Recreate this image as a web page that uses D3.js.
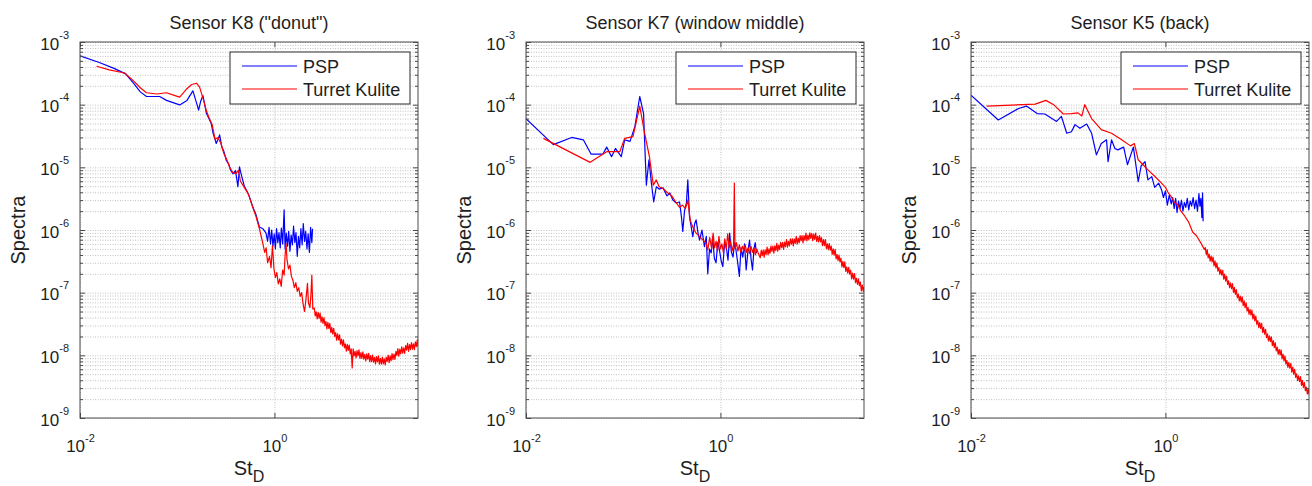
<!DOCTYPE html>
<html>
<head>
<meta charset="utf-8">
<script src="https://cdn.jsdelivr.net/npm/d3@7"></script>
<style>
  body { margin: 0; background: #fff; }
  svg { display: block; font-family: "Liberation Sans", Arial, Helvetica, sans-serif; }
</style>
</head>
<body>
<svg id="chart" width="1312" height="486"></svg>
<script>
// Titles, legend names and axis ticks
const panelTitles = ['Sensor K8 ("donut")', 'Sensor K7 (window middle)', 'Sensor K5 (back)'];
const seriesNames = ['PSP', 'Turret Kulite'];
const seriesColors = ['#0000ff', '#ff0000'];
const xTickValues = [0.01, 1];
const yTickValues = [1e-9, 1e-8, 1e-7, 1e-6, 1e-5, 1e-4, 1e-3];
const xDomain = [0.01, 30];
const yDomain = [1e-9, 1e-3];

// Spectra vs. St_D, one array of [St_D, spectrum] pairs per sensor and measurement
const k8Psp = [
  [0.010,6.0e-4],[0.0158,4.7e-4],[0.0224,3.8e-4],[0.0295,3.1e-4],[0.0355,2.2e-4],[0.0417,1.6e-4],
  [0.0483,1.35e-4],[0.066,1.35e-4],[0.0776,1.17e-4],[0.106,9.9e-5],[0.126,1.17e-4],[0.145,1.66e-4],
  [0.158,1.07e-4],[0.166,8.2e-5],[0.174,1.12e-4],[0.184,1.4e-4],[0.20,7.2e-5],[0.212,6.0e-5],
  [0.224,5.0e-5],[0.234,3.5e-5],[0.245,2.8e-5],[0.252,2.4e-5],[0.263,2.8e-5],[0.273,3.3e-5],
  [0.288,2.1e-5],[0.302,1.8e-5],[0.319,1.3e-5],[0.339,1.12e-5],[0.355,8.9e-6],[0.374,7.9e-6],
  [0.398,8.9e-6],[0.421,4.9e-6],[0.437,1.02e-5],[0.457,7.6e-6],[0.49,5.0e-6],[0.513,4.4e-6],
  [0.55,3.5e-6],[0.60,2.3e-6],[0.645,1.78e-6],[0.70,1.12e-6],[0.76,1.05e-6],[0.82,8.9e-7],
  [0.851,6.6e-7],[0.881,1.10e-6],[0.912,6.0e-7],[0.938,1.0e-6],[0.966,5.5e-7],[0.995,8.7e-7],
  [1.023,5.0e-7],[1.052,1.05e-6],[1.084,6.3e-7],[1.114,9.1e-7],[1.148,5.2e-7],[1.180,1.07e-6],
  [1.216,6.0e-7],[1.259,2.1e-6],[1.288,5.0e-7],[1.324,8.9e-7],[1.365,5.5e-7],[1.403,9.5e-7],
  [1.445,4.6e-7],[1.486,8.3e-7],[1.531,5.8e-7],[1.574,1.15e-6],[1.622,6.3e-7],[1.667,9.1e-7],
  [1.718,3.8e-7],[1.766,7.9e-7],[1.820,5.2e-7],[1.871,1.05e-6],[1.928,5.8e-7],[1.982,1.26e-6],
  [2.042,6.6e-7],[2.099,9.5e-7],[2.163,5.0e-7],[2.223,8.7e-7],[2.291,4.4e-7],[2.355,1.10e-6],
  [2.427,6.3e-7],[2.466,1.05e-6]
];
const k8Kulite = [
  [0.0148,4.1e-4],[0.020,3.6e-4],[0.0288,3.2e-4],[0.0355,2.4e-4],[0.0417,1.86e-4],[0.0483,1.55e-4],
  [0.0617,1.48e-4],[0.0776,1.55e-4],[0.0933,1.41e-4],[0.106,1.32e-4],[0.124,1.76e-4],[0.141,2.1e-4],
  [0.158,2.2e-4],[0.170,1.9e-4],[0.187,1.17e-4],[0.20,7.9e-5],[0.214,6.0e-5],[0.229,4.8e-5],
  [0.245,2.8e-5],[0.263,3.0e-5],[0.282,2.4e-5],[0.302,1.66e-5],[0.324,1.32e-5],[0.347,1.0e-5],
  [0.372,8.3e-6],[0.398,7.9e-6],[0.427,8.9e-6],[0.447,6.0e-6],[0.49,4.8e-6],[0.537,3.8e-6],
  [0.589,2.5e-6],[0.645,1.66e-6],[0.70,1.05e-6],
  [0.759,6.2e-7],[0.794,4.4e-7],[0.822,5.2e-7],[0.851,3.0e-7],[0.891,3.8e-7],[0.923,2.5e-7],
  [0.955,5.6e-7],[0.989,2.4e-7],[1.023,1.74e-7],[1.059,2.1e-7],[1.096,1.38e-7],[1.135,1.66e-7],
  [1.175,1.26e-7],[1.216,2.3e-7],[1.259,1.9e-7],[1.288,4.0e-7],[1.318,6.0e-7],[1.349,3.3e-7],
  [1.396,2.4e-7],[1.445,2.75e-7],[1.496,1.82e-7],[1.549,1.58e-7],[1.603,1.2e-7],[1.660,1.45e-7],
  [1.718,1.05e-7],[1.778,1.2e-7],[1.841,8.7e-8],[1.905,1.0e-7],[1.972,6.6e-8],[2.042,5.0e-8],
  [2.113,7.9e-8],[2.188,1.41e-7],[2.239,6.9e-8],[2.317,5.8e-8],[2.371,8.9e-8],[2.427,1.9e-7],
  [2.483,5.5e-8],
  [2.570,5.69e-8],[2.630,4.27e-8],[2.692,4.95e-8],[2.754,3.80e-8],[2.818,4.84e-8],[2.884,3.89e-8],
  [2.951,4.73e-8],[3.020,3.39e-8],[3.090,4.12e-8],[3.162,3.24e-8],[3.236,4.01e-8],[3.311,2.99e-8],
  [3.388,3.46e-8],[3.467,2.64e-8],[3.548,3.35e-8],[3.631,2.68e-8],[3.715,3.24e-8],[3.802,2.31e-8],
  [3.890,2.80e-8],[3.981,2.19e-8],[4.074,2.70e-8],[4.169,2.00e-8],[4.266,2.31e-8],[4.365,1.75e-8],
  [4.467,2.21e-8],[4.571,1.76e-8],[4.677,2.12e-8],[4.786,1.51e-8],[4.898,1.82e-8],[5.012,1.41e-8],
  [5.129,1.76e-8],[5.248,1.32e-8],[5.370,1.53e-8],[5.495,1.17e-8],[5.623,1.50e-8],[5.754,1.20e-8],
  [5.888,1.46e-8],[6.026,1.05e-8],[6.166,1.27e-8],[6.310,6.31e-9],[6.457,1.27e-8],[6.607,9.77e-9],
  [6.761,1.16e-8],[6.918,9.12e-9],[7.079,1.19e-8],[7.244,9.77e-9],[7.413,1.22e-8],[7.586,8.91e-9],
  [7.762,1.11e-8],[7.943,8.91e-9],[8.128,1.14e-8],[8.318,8.71e-9],[8.511,1.04e-8],[8.710,8.13e-9],
  [8.913,1.06e-8],[9.120,8.71e-9],[9.333,1.08e-8],[9.550,7.94e-9],[9.772,9.89e-9],[10.00,7.94e-9],
  [10.23,1.01e-8],[10.47,7.80e-9],[10.72,9.29e-9],[10.96,7.31e-9],[11.22,9.55e-9],[11.48,7.87e-9],
  [11.75,9.82e-9],[12.02,7.21e-9],[12.30,8.99e-9],[12.59,7.24e-9],[12.88,9.38e-9],[13.18,7.31e-9],
  [13.49,8.83e-9],[13.80,7.05e-9],[14.13,9.33e-9],[14.45,7.91e-9],[14.79,1.01e-8],[15.14,7.66e-9],
  [15.49,9.82e-9],[15.85,8.13e-9],[16.22,1.07e-8],[16.60,8.55e-9],[16.98,1.05e-8],[17.38,8.59e-9],
  [17.78,1.16e-8],[18.20,9.91e-9],[18.62,1.28e-8],[19.05,9.73e-9],[19.50,1.26e-8],[19.95,1.05e-8],
  [20.42,1.37e-8],[20.89,1.08e-8],[21.38,1.32e-8],[21.88,1.07e-8],[22.39,1.43e-8],[22.91,1.21e-8],
  [23.44,1.55e-8],[23.99,1.16e-8],[24.55,1.49e-8],[25.12,1.23e-8],[25.70,1.60e-8],[26.30,1.26e-8],
  [26.92,1.53e-8],[27.54,1.23e-8],[28.18,1.64e-8],[28.84,1.38e-8],[29.51,1.76e-8],[30.0,1.38e-8]
];
const k7Psp = [
  [0.0100,6.0e-5],[0.0191,2.3e-5],[0.0295,3.0e-5],[0.0389,2.75e-5],[0.0468,1.62e-5],[0.0617,1.62e-5],
  [0.0676,2.1e-5],[0.0759,1.48e-5],[0.0832,2.0e-5],[0.0955,1.48e-5],[0.1035,2.75e-5],[0.1175,2.6e-5],
  [0.132,4.5e-5],[0.148,1.35e-4],[0.162,7.2e-5],[0.173,5.2e-6],[0.184,1.32e-5],[0.195,5.6e-6],
  [0.206,2.8e-6],[0.219,4.9e-6],[0.234,4.5e-6],[0.257,4.7e-6],[0.282,3.5e-6],[0.302,3.9e-6],
  [0.324,3.0e-6],[0.351,2.7e-6],[0.380,2.8e-6],[0.398,1.58e-6],[0.410,9.5e-7],[0.427,2.0e-6],
  [0.447,2.7e-6],[0.462,6.3e-6],[0.481,1.62e-6],[0.501,1.12e-6],[0.520,7.8e-7],[0.543,1.26e-6],
  [0.562,1.45e-6],[0.589,8.9e-7],[0.610,6.9e-7],[0.646,1.0e-6],[0.685,5.4e-7],[0.716,7.9e-7],
  [0.741,2.0e-7],[0.773,5.0e-7],[0.804,4.3e-7],[0.832,7.8e-7],[0.867,3.5e-7],[0.902,3.0e-7],
  [0.938,6.3e-7],[0.977,4.8e-7],[1.019,3.2e-7],[1.059,2.6e-7],[1.102,6.0e-7],[1.148,5.4e-7],
  [1.197,3.3e-7],[1.245,8.9e-7],[1.294,4.5e-7],[1.349,3.7e-7],[1.396,6.3e-7],[1.445,4.8e-7],
  [1.507,3.0e-7],[1.567,1.82e-7],[1.629,5.2e-7],[1.698,3.7e-7],[1.770,6.0e-7],[1.841,2.3e-7],
  [1.914,4.4e-7],[1.995,6.9e-7],[2.065,3.5e-7],[2.138,2.3e-7],[2.213,5.0e-7],[2.280,6.3e-7],
  [2.344,4.3e-7]
];
const k7Kulite = [
  [0.0151,2.9e-5],[0.0457,1.2e-5],[0.0676,1.78e-5],[0.0923,1.78e-5],[0.1035,2.9e-5],[0.126,3.1e-5],
  [0.148,9.5e-5],[0.166,3.5e-5],[0.186,1.48e-5],[0.204,5.2e-6],[0.219,6.3e-6],[0.234,4.9e-6],
  [0.257,4.6e-6],[0.282,4.0e-6],[0.316,3.5e-6],[0.347,2.8e-6],[0.380,2.3e-6],[0.407,2.5e-6],
  [0.437,2.2e-6],[0.462,3.0e-6],[0.490,1.41e-6],[0.520,1.12e-6],[0.562,8.9e-7],[0.661,6.9e-7],
  [0.708,6.3e-7],[0.741,4.8e-7],[0.776,7.6e-7],[0.813,5.0e-7],[0.841,8.9e-7],[0.871,5.2e-7],
  [0.902,6.6e-7],[0.933,4.6e-7],[0.966,7.9e-7],[1.000,5.0e-7],[1.035,6.0e-7],[1.072,4.4e-7],
  [1.109,7.2e-7],[1.148,5.0e-7],[1.189,8.7e-7],[1.230,5.2e-7],[1.274,6.6e-7],[1.318,4.6e-7],
  [1.365,5.8e-7],[1.390,5.6e-6],[1.413,5.0e-7],[1.462,6.3e-7],[1.514,4.6e-7],[1.567,5.8e-7],
  [1.622,4.4e-7],[1.679,5.5e-7],[1.738,4.6e-7],[1.799,5.8e-7],[1.862,4.4e-7],[1.928,5.2e-7],
  [1.995,4.2e-7],[2.065,5.5e-7],[2.138,4.4e-7],[2.213,5.2e-7],[2.291,4.0e-7],[2.371,5.0e-7],
  [2.455,4.2e-7],
  [2.570,3.61e-7],[2.630,4.72e-7],[2.692,3.90e-7],[2.754,4.76e-7],[2.818,3.67e-7],[2.884,4.81e-7],
  [2.951,4.06e-7],[3.020,5.32e-7],[3.090,4.01e-7],[3.162,5.01e-7],[3.236,4.23e-7],[3.311,5.52e-7],
  [3.388,4.55e-7],[3.467,5.55e-7],[3.548,4.27e-7],[3.631,5.57e-7],[3.715,4.70e-7],[3.802,6.14e-7],
  [3.890,4.61e-7],[3.981,5.75e-7],[4.074,4.85e-7],[4.169,6.34e-7],[4.266,5.22e-7],[4.365,6.37e-7],
  [4.467,4.90e-7],[4.571,6.40e-7],[4.677,5.40e-7],[4.786,7.05e-7],[4.898,5.30e-7],[5.012,6.61e-7],
  [5.129,5.56e-7],[5.248,7.24e-7],[5.370,5.96e-7],[5.495,7.24e-7],[5.623,5.56e-7],[5.754,7.24e-7],
  [5.888,6.10e-7],[6.026,7.94e-7],[6.166,5.96e-7],[6.310,7.41e-7],[6.457,6.24e-7],[6.607,8.13e-7],
  [6.761,6.68e-7],[6.918,8.13e-7],[7.079,6.24e-7],[7.244,8.13e-7],[7.413,6.84e-7],[7.586,8.91e-7],
  [7.762,6.68e-7],[7.943,8.32e-7],[8.128,6.95e-7],[8.318,8.99e-7],[8.511,7.35e-7],[8.710,8.87e-7],
  [8.913,6.76e-7],[9.120,8.59e-7],[9.333,7.05e-7],[9.550,8.95e-7],[9.772,6.55e-7],[10.00,7.94e-7],
  [10.23,6.46e-7],[10.47,8.13e-7],[10.72,6.46e-7],[10.96,7.59e-7],[11.22,5.62e-7],[11.48,7.01e-7],
  [11.75,5.65e-7],[12.02,7.05e-7],[12.30,5.06e-7],[12.59,6.03e-7],[12.88,4.85e-7],[13.18,6.05e-7],
  [13.49,4.76e-7],[13.80,5.55e-7],[14.13,4.07e-7],[14.45,5.01e-7],[14.79,3.98e-7],[15.14,4.90e-7],
  [15.49,3.47e-7],[15.85,4.07e-7],[16.22,3.24e-7],[16.60,3.98e-7],[16.98,3.09e-7],[17.38,3.55e-7],
  [17.78,2.57e-7],[18.20,3.16e-7],[18.62,2.51e-7],[19.05,3.09e-7],[19.50,2.19e-7],[19.95,2.57e-7],
  [20.42,2.05e-7],[20.89,2.54e-7],[21.38,1.98e-7],[21.88,2.28e-7],[22.39,1.66e-7],[22.91,2.05e-7],
  [23.44,1.64e-7],[23.99,2.02e-7],[24.55,1.44e-7],[25.12,1.70e-7],[25.70,1.35e-7],[26.30,1.66e-7],
  [26.92,1.29e-7],[27.54,1.48e-7],[28.18,1.07e-7],[28.84,1.32e-7],[29.51,1.05e-7],[30.0,1.23e-7]
];
const k5Psp = [
  [0.0100,1.41e-4],[0.0191,5.7e-5],[0.0309,8.7e-5],[0.0372,9.5e-5],[0.0479,7.2e-5],[0.0575,7.1e-5],
  [0.0759,5.4e-5],[0.0851,6.5e-5],[0.0966,3.5e-5],[0.108,3.7e-5],[0.1175,4.8e-5],[0.132,4.2e-5],
  [0.155,4.9e-5],[0.174,3.5e-5],[0.195,1.58e-5],[0.219,2.4e-5],[0.248,2.75e-5],[0.257,1.23e-5],
  [0.279,2.75e-5],[0.302,2.0e-5],[0.324,1.9e-5],[0.372,2.1e-5],[0.407,1.1e-5],[0.468,2.1e-5],
  [0.501,1.0e-5],[0.525,5.9e-6],[0.562,1.05e-5],[0.617,1.23e-5],[0.661,6.3e-6],[0.724,7.1e-6],
  [0.776,4.8e-6],[0.851,5.6e-6],[0.912,4.4e-6],[0.955,3.3e-6],[1.000,4.2e-6],[1.047,2.5e-6],
  [1.096,3.6e-6],[1.148,2.6e-6],[1.189,3.3e-6],[1.230,2.2e-6],[1.274,3.2e-6],[1.318,1.9e-6],
  [1.365,2.9e-6],[1.413,2.2e-6],[1.462,3.0e-6],[1.514,2.0e-6],[1.567,2.75e-6],[1.622,2.3e-6],
  [1.679,3.2e-6],[1.738,2.1e-6],[1.799,2.9e-6],[1.862,2.4e-6],[1.928,3.3e-6],[1.995,2.2e-6],
  [2.065,3.0e-6],[2.138,2.0e-6],[2.213,3.8e-6],[2.265,2.4e-6],[2.317,3.2e-6],[2.371,1.58e-6],
  [2.410,3.9e-6],[2.443,1.38e-6]
];
const k5Kulite = [
  [0.0145,9.5e-5],[0.0457,1.02e-4],[0.0589,1.17e-4],[0.0708,1.0e-4],[0.0891,7.1e-5],[0.108,7.2e-5],
  [0.126,7.4e-5],[0.138,6.6e-5],[0.148,1.0e-4],[0.174,6.0e-5],[0.219,4.0e-5],[0.279,3.5e-5],
  [0.355,2.75e-5],[0.437,2.2e-5],[0.479,2.4e-5],[0.525,1.32e-5],[0.589,1.1e-5],[0.661,9.1e-6],
  [0.776,7.2e-6],[0.912,5.6e-6],[1.000,4.8e-6],[1.072,3.9e-6],[1.148,3.4e-6],[1.230,2.8e-6],
  [1.349,2.5e-6],[1.445,2.0e-6],[1.585,1.66e-6],[1.740,1.32e-6],[1.905,9.3e-7],[2.090,8.1e-7],
  [2.344,6.0e-7],[2.512,4.9e-7],
  [2.570,5.24e-7],[2.630,4.06e-7],[2.692,4.85e-7],[2.754,3.59e-7],[2.818,4.11e-7],[2.884,3.18e-7],
  [2.951,3.82e-7],[3.020,3.09e-7],[3.090,3.71e-7],[3.162,2.68e-7],[3.236,3.21e-7],[3.311,2.49e-7],
  [3.388,2.98e-7],[3.467,2.20e-7],[3.548,2.52e-7],[3.631,1.95e-7],[3.715,2.34e-7],[3.802,1.90e-7],
  [3.890,2.28e-7],[3.981,1.64e-7],[4.074,1.97e-7],[4.169,1.53e-7],[4.266,1.83e-7],[4.365,1.35e-7],
  [4.467,1.55e-7],[4.571,1.20e-7],[4.677,1.44e-7],[4.786,1.16e-7],[4.898,1.40e-7],[5.012,1.01e-7],
  [5.129,1.21e-7],[5.248,9.38e-8],[5.370,1.12e-7],[5.495,8.30e-8],[5.623,9.51e-8],[5.754,7.36e-8],
  [5.888,8.83e-8],[6.026,7.14e-8],[6.166,8.57e-8],[6.310,6.19e-8],[6.457,7.43e-8],[6.607,5.75e-8],
  [6.761,6.89e-8],[6.918,5.09e-8],[7.079,5.83e-8],[7.244,4.52e-8],[7.413,5.42e-8],[7.586,4.39e-8],
  [7.762,5.26e-8],[7.943,3.80e-8],[8.128,4.56e-8],[8.318,3.53e-8],[8.511,4.23e-8],[8.710,3.13e-8],
  [8.913,3.58e-8],[9.120,2.77e-8],[9.333,3.33e-8],[9.550,2.69e-8],[9.772,3.23e-8],[10.00,2.33e-8],
  [10.23,2.80e-8],[10.47,2.17e-8],[10.72,2.59e-8],[10.96,1.92e-8],[11.22,2.20e-8],[11.48,1.70e-8],
  [11.75,2.04e-8],[12.02,1.65e-8],[12.30,1.98e-8],[12.59,1.43e-8],[12.88,1.72e-8],[13.18,1.33e-8],
  [13.49,1.59e-8],[13.80,1.18e-8],[14.13,1.35e-8],[14.45,1.04e-8],[14.79,1.25e-8],[15.14,1.01e-8],
  [15.49,1.22e-8],[15.85,8.79e-9],[16.22,1.05e-8],[16.60,8.17e-9],[16.98,9.77e-9],[17.38,7.23e-9],
  [17.78,8.28e-9],[18.20,6.41e-9],[18.62,7.69e-9],[19.05,6.22e-9],[19.50,7.46e-9],[19.95,5.40e-9],
  [20.42,6.47e-9],[20.89,5.01e-9],[21.38,6.00e-9],[21.88,4.44e-9],[22.39,5.08e-9],[22.91,3.94e-9],
  [23.44,4.72e-9],[23.99,3.82e-9],[24.55,4.58e-9],[25.12,3.31e-9],[25.70,3.97e-9],[26.30,3.08e-9],
  [26.92,3.68e-9],[27.54,2.72e-9],[28.18,3.12e-9],[28.84,2.42e-9],[29.51,2.90e-9],[30.0,2.38e-9]
];

const panels = [
  { title: panelTitles[0], series: [k8Psp, k8Kulite] },
  { title: panelTitles[1], series: [k7Psp, k7Kulite] },
  { title: panelTitles[2], series: [k5Psp, k5Kulite] }
];

// Layout
const panelLeft = [80, 526, 971];
const plotTop = 42, plotW = 338, plotH = 376;
const frameColor = '#4a4a4a', textColor = '#1e1e1e', gridColor = '#c2c2c2';

const svg = d3.select('#chart');
const x = d3.scaleLog().domain(xDomain).range([0, plotW]);
const y = d3.scaleLog().domain(yDomain).range([plotH, 0]);
const yAll = y.ticks();                                   // 1..9 x each decade
const yMinor = yAll.filter(v => !yTickValues.some(t => Math.abs(v / t - 1) < 1e-9));

const line = d3.line().x(d => x(d[0])).y(d => y(d[1]));

// "10" with a raised exponent
function powerLabel(text, big, small, rise) {
  text.each(function (d) {
    const t = d3.select(this);
    const e = Math.round(Math.log10(d));
    t.text(null);
    t.append('tspan').attr('font-size', big).text('10');
    t.append('tspan').attr('font-size', small).attr('dy', -rise).text(String(e));
  });
}

panels.forEach((p, i) => {
  const g = svg.append('g').attr('transform', `translate(${panelLeft[i]},${plotTop})`);

  // background
  g.append('rect').attr('width', plotW).attr('height', plotH).attr('fill', '#fff');

  // horizontal grid (major + minor decades)
  g.append('g')
    .call(d3.axisLeft(y).tickValues(yAll).tickSize(-plotW).tickFormat(''))
    .call(s => s.select('.domain').remove())
    .selectAll('line')
    .attr('stroke', gridColor).attr('stroke-width', 1).attr('stroke-dasharray', '1,1.5');

  // vertical grid at the labelled decades
  g.append('g').attr('transform', `translate(0,${plotH})`)
    .call(d3.axisBottom(x).tickValues(xTickValues).tickSize(-plotH).tickFormat(''))
    .call(s => s.select('.domain').remove())
    .selectAll('line')
    .attr('stroke', gridColor).attr('stroke-width', 1).attr('stroke-dasharray', '1,1.5');

  // data
  const clipId = `clip${i}`;
  g.append('clipPath').attr('id', clipId)
    .append('rect').attr('width', plotW).attr('height', plotH);
  const dataG = g.append('g').attr('clip-path', `url(#${clipId})`);
  p.series.forEach((s, k) => {
    dataG.append('path')
      .datum(s)
      .attr('d', line)
      .attr('fill', 'none')
      .attr('stroke', seriesColors[k])
      .attr('stroke-width', 1.2)
      .attr('stroke-linejoin', 'round');
  });

  // frame
  g.append('rect').attr('width', plotW).attr('height', plotH)
    .attr('fill', 'none').attr('stroke', frameColor).attr('stroke-width', 1);

  // y ticks and labels
  const yl = g.append('g')
    .call(d3.axisLeft(y).tickValues(yTickValues).tickSize(-5).tickPadding(11));
  yl.select('.domain').remove();
  yl.selectAll('line').attr('stroke', frameColor);
  yl.selectAll('text').attr('fill', textColor).attr('dy', 7).attr('font-family', null)
    .call(powerLabel, 17, 11, 11);
  g.append('g')
    .call(d3.axisLeft(y).tickValues(yMinor).tickSize(-3).tickFormat(''))
    .call(s => s.select('.domain').remove())
    .selectAll('line').attr('stroke', frameColor);
  g.append('g').attr('transform', `translate(${plotW},0)`)
    .call(d3.axisRight(y).tickValues(yTickValues).tickSize(-5).tickFormat(''))
    .call(s => s.select('.domain').remove())
    .selectAll('line').attr('stroke', frameColor);
  g.append('g').attr('transform', `translate(${plotW},0)`)
    .call(d3.axisRight(y).tickValues(yMinor).tickSize(-3).tickFormat(''))
    .call(s => s.select('.domain').remove())
    .selectAll('line').attr('stroke', frameColor);

  // x ticks and labels
  const xl = g.append('g').attr('transform', `translate(0,${plotH})`)
    .call(d3.axisBottom(x).tickValues(xTickValues).tickSize(-5));
  xl.select('.domain').remove();
  xl.selectAll('line').attr('stroke', frameColor);
  xl.selectAll('text').attr('fill', textColor).attr('y', 34).attr('dy', 0).attr('font-family', null)
    .call(powerLabel, 17, 11, 10);
  g.append('g')
    .call(d3.axisTop(x).tickValues(xTickValues).tickSize(-5).tickFormat(''))
    .call(s => s.select('.domain').remove())
    .selectAll('line').attr('stroke', frameColor);

  // title
  g.append('text')
    .attr('x', plotW / 2).attr('y', -13)
    .attr('text-anchor', 'middle')
    .attr('font-size', 18).attr('fill', textColor)
    .text(p.title);

  // axis labels
  g.append('text')
    .attr('transform', `translate(-55,${plotH / 2}) rotate(-90)`)
    .attr('text-anchor', 'middle')
    .attr('font-size', 20).attr('fill', textColor)
    .text('Spectra');
  const xt = g.append('text')
    .attr('x', plotW / 2).attr('y', plotH + 57)
    .attr('text-anchor', 'middle')
    .attr('font-size', 20).attr('fill', textColor);
  xt.append('tspan').text('St');
  xt.append('tspan').attr('font-size', 16).attr('dy', 7).text('D');

  // legend
  const lgW = 180, lgH = 52;
  const lg = g.append('g').attr('transform', `translate(${plotW - 8 - lgW},10)`);
  lg.append('rect').attr('width', lgW).attr('height', lgH)
    .attr('fill', '#fff').attr('stroke', '#2a2a2a').attr('stroke-width', 1);
  seriesNames.forEach((name, k) => {
    const ly = 14 + k * 23;
    lg.append('line')
      .attr('x1', 12).attr('x2', 67).attr('y1', ly).attr('y2', ly)
      .attr('stroke', seriesColors[k]).attr('stroke-width', 1.2);
    lg.append('text')
      .attr('x', 73).attr('y', ly + 6.5)
      .attr('font-size', 18).attr('fill', textColor)
      .text(name);
  });
});
</script>
</body>
</html>
